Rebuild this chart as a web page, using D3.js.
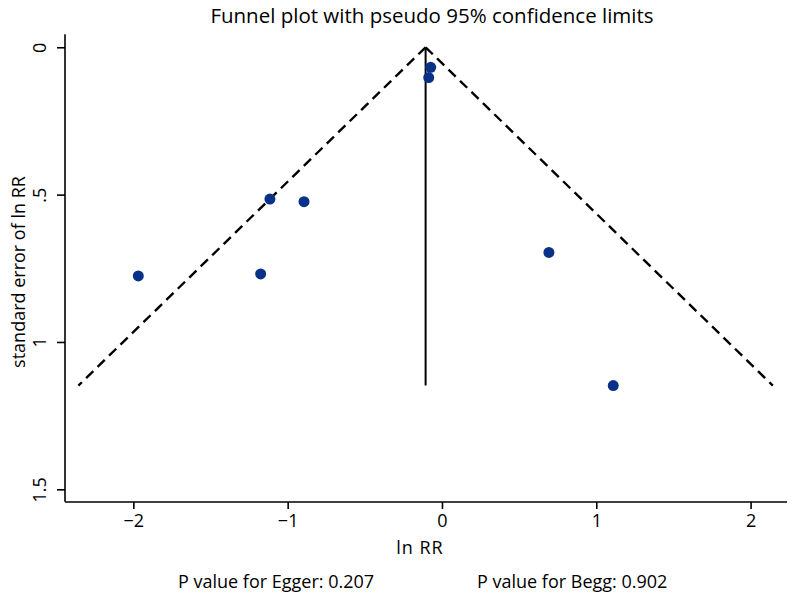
<!DOCTYPE html>
<html><head><meta charset="utf-8">
<script src="https://cdn.jsdelivr.net/npm/d3@7"></script>
<style>body{margin:0;background:#fff}svg{display:block}text{font-family:"Open Sans",sans-serif;fill:#000}</style>
</head><body><svg id="c" width="795" height="600"></svg>
<script>
const lnRR = [-0.073, -0.086, -1.115, -0.894, -1.968, -1.175, 0.693, 1.110];
const seLnRR = [0.068, 0.103, 0.515, 0.524, 0.776, 0.769, 0.696, 1.148];
const pooled = -0.106;
const xTicks = [-2, -1, 0, 1, 2];
const yTicks = [0, 0.5, 1, 1.5];
const yTickLabels = ["0", ".5", "1", "1.5"];
const title = "Funnel plot with pseudo 95% confidence limits";
const footers = ["P value for Egger: 0.207", "P value for Begg: 0.902"];

const svg = d3.select("#c");
const x = d3.scaleLinear().domain([-2.443, 2.236]).range([65, 787]);
const y = d3.scaleLinear().domain([-0.044, 1.542]).range([34.3, 501.7]);
const maxSE = d3.max(seLnRR);

// axes
const xAxis = svg.append("g").attr("transform", "translate(0,502)")
  .call(d3.axisBottom(x).tickValues(xTicks).tickSize(7).tickPadding(5)
    .tickFormat(d => d < 0 ? "\u2212" + Math.abs(d) : String(d)));
xAxis.select(".domain").attr("d", `M${x.range()[0]},0H${x.range()[1]}`).attr("stroke-width", 1.6);
xAxis.selectAll(".tick line").attr("stroke-width", 1.6);
xAxis.selectAll(".tick text").attr("font-size", 18).attr("font-family", "Open Sans").attr("fill", "#000");

const yAxis = svg.append("g").attr("transform", "translate(65,0)")
  .call(d3.axisLeft(y).tickValues(yTicks).tickSize(8).tickFormat((d, i) => yTickLabels[i]));
yAxis.select(".domain").attr("d", `M0,${y.range()[0]}V${y.range()[1]}`).attr("stroke-width", 1.6);
yAxis.selectAll(".tick line").attr("stroke-width", 1.6);
yAxis.selectAll(".tick text").attr("font-size", 18).attr("font-family", "Open Sans").attr("fill", "#000")
  .attr("x", 0).attr("dy", 0).attr("text-anchor", "middle")
  .attr("transform", "translate(-19,0) rotate(-90)");

// funnel dashed lines
const funnel = d3.line().x(d => x(d[0])).y(d => y(d[1]));
[-1, 1].forEach(s => {
  svg.append("path")
    .attr("d", funnel([[pooled, 0], [pooled + s * 1.96 * maxSE, maxSE]]))
    .attr("fill", "none").attr("stroke", "#000").attr("stroke-width", 2.4)
    .attr("stroke-dasharray", "10,6");
});
// pooled vertical line
svg.append("path").attr("d", funnel([[pooled, 0], [pooled, maxSE]]))
  .attr("stroke", "#000").attr("stroke-width", 2);

// points
svg.append("g").selectAll("circle").data(lnRR).join("circle")
  .attr("cx", d => x(d)).attr("cy", (d, i) => y(seLnRR[i])).attr("r", 5.5)
  .attr("fill", "#0a3188");

// texts
svg.append("text").attr("x", 432).attr("y", 23).attr("text-anchor", "middle")
  .attr("font-size", 20.5).text(title);
svg.append("text").attr("x", 420).attr("y", 554).attr("text-anchor", "middle")
  .attr("font-size", 18).attr("letter-spacing", 1).text("ln RR");
svg.append("text").attr("transform", "translate(25,272) rotate(-90)").attr("text-anchor", "middle")
  .attr("font-size", 18).text("standard error of ln RR");
svg.append("text").attr("x", 178).attr("y", 588).attr("font-size", 18).text(footers[0]);
svg.append("text").attr("x", 477).attr("y", 588).attr("font-size", 18).text(footers[1]);
</script></body></html>
